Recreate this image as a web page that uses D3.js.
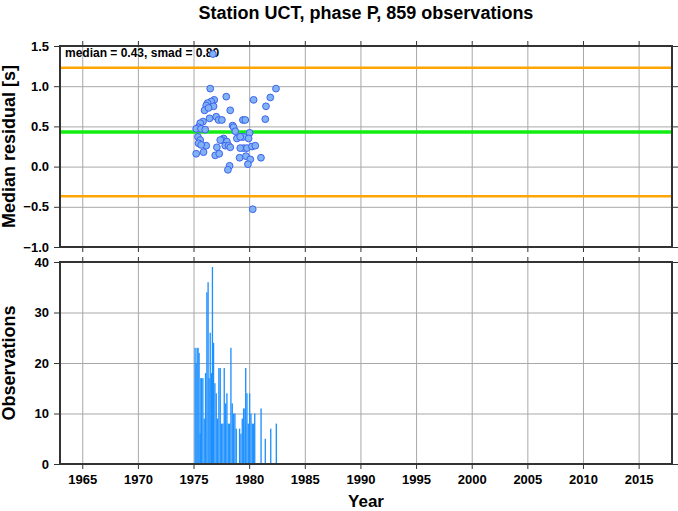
<!DOCTYPE html>
<html><head><meta charset="utf-8">
<script src="https://cdn.jsdelivr.net/npm/d3@7/dist/d3.min.js"></script>
<style>body{margin:0;background:#fff}</style>
</head><body>
<svg id="chart" width="678" height="511"></svg>
<script>
// ---------------- data ----------------
const titleText = "Station UCT, phase P, 859 observations";
const medianValue = 0.43;
const smadValue = 0.80;
const yearTicks = [1965, 1970, 1975, 1980, 1985, 1990, 1995, 2000, 2005, 2010, 2015];
const residualTicks = [-1.0, -0.5, 0.0, 0.5, 1.0, 1.5];
const countTicks = [0, 10, 20, 30, 40];

const pointYears = [1976.74, 1976.50, 1977.94, 1982.41, 1980.40, 1981.90, 1976.86, 1976.59, 1976.26, 1976.14,
  1975.99, 1976.80, 1976.35, 1978.30, 1981.51, 1977.04, 1977.25, 1977.55, 1976.44, 1975.85,
  1975.60, 1975.45, 1975.24, 1975.67, 1976.05, 1979.44, 1979.65, 1981.45, 1978.51, 1978.60,
  1978.75, 1980.04, 1975.40, 1975.60, 1977.70, 1977.55, 1978.00, 1979.35, 1979.50, 1978.90,
  1979.20, 1979.95, 1976.14, 1977.10, 1977.85, 1978.15, 1978.30, 1979.50, 1979.80, 1980.25,
  1980.55, 1975.45, 1975.69, 1975.24, 1975.90, 1976.95, 1977.31, 1977.40, 1979.14, 1979.71,
  1980.10, 1981.06, 1979.89, 1978.24, 1978.09, 1980.32, 1979.20];
const pointResiduals = [1.40, 0.97, 0.87, 0.97, 0.83, 0.86, 0.83, 0.81, 0.79, 0.76,
  0.70, 0.75, 0.73, 0.70, 0.75, 0.62, 0.58, 0.58, 0.60, 0.56,
  0.54, 0.49, 0.47, 0.47, 0.46, 0.58, 0.58, 0.59, 0.51, 0.49,
  0.44, 0.42, 0.37, 0.33, 0.35, 0.33, 0.31, 0.37, 0.37, 0.35,
  0.37, 0.35, 0.26, 0.24, 0.26, 0.26, 0.24, 0.23, 0.23, 0.25,
  0.26, 0.29, 0.27, 0.16, 0.18, 0.14, 0.16, 0.33, 0.11, 0.13,
  0.09, 0.11, 0.03, 0.01, -0.04, -0.53, 0.23];

const barYears = [1975.14, 1975.23, 1975.32, 1975.41, 1975.50, 1975.60, 1975.66, 1975.72, 1975.84, 1975.96,
  1976.08, 1976.20, 1976.31, 1976.40, 1976.50, 1976.62, 1976.70, 1976.80, 1976.92, 1977.04,
  1977.16, 1977.28, 1977.40, 1977.52, 1977.64, 1977.76, 1977.88, 1978.00, 1978.12, 1978.24,
  1978.36, 1978.48, 1978.60, 1978.72, 1978.84, 1979.14, 1979.26, 1979.38, 1979.50, 1979.62,
  1979.69, 1979.80, 1979.92, 1980.04, 1980.16, 1980.28, 1980.40, 1980.50, 1981.07, 1981.45,
  1981.94, 1982.44];
const barCounts = [23, 20, 23, 23, 22, 6, 17, 17, 17, 9,
  18, 34, 36, 17, 26, 18, 39, 24, 16, 14,
  9, 19, 19, 8, 8, 19, 12, 14, 8, 8,
  23, 12, 10, 10, 7, 7, 6, 9, 11, 11,
  19, 14, 8, 14, 10, 8, 8, 10, 11, 5,
  7, 8];

// ---------------- layout ----------------
const W = 678, H = 511;
const left = 60, right = 672;
const top1 = 46, bot1 = 247, top2 = 262, bot2 = 464;
const font = "'Liberation Sans', Arial, Helvetica, sans-serif";
const barWidthYears = 0.12;

const svg = d3.select("#chart");
svg.append("rect").attr("width", W).attr("height", H).attr("fill", "#fff");

const x = d3.scaleLinear().domain([1963, 2018]).range([left, right]);
const yR = d3.scaleLinear().domain([-1.0, 1.5]).range([bot1, top1]);
const yC = d3.scaleLinear().domain([0, 40]).range([bot2, top2]);

function grid(g, yScale, yTicks, y0, y1) {
  g.append("g").attr("transform", `translate(0,${y1})`)
    .call(d3.axisBottom(x).tickValues(yearTicks).tickSize(-(y1 - y0)).tickFormat(""))
    .call(a => { a.select(".domain").remove(); a.selectAll("line").attr("stroke", "#a8a8a8").attr("stroke-width", 1); });
  g.append("g").attr("transform", `translate(${left},0)`)
    .call(d3.axisLeft(yScale).tickValues(yTicks).tickSize(-(right - left)).tickFormat(""))
    .call(a => { a.select(".domain").remove(); a.selectAll("line").attr("stroke", "#a8a8a8").attr("stroke-width", 1); });
}

function frame(g, yScale, yTicks, fmt, y0, y1, showX) {
  const styleAxis = a => {
    a.select(".domain").remove();
    a.selectAll("line").attr("stroke", "#333").attr("stroke-width", 1);
    a.selectAll("text").attr("font-family", font).attr("font-weight", "bold")
      .attr("font-size", 13).attr("fill", "#000");
  };
  g.append("g").attr("transform", `translate(${left},0)`)
    .call(d3.axisLeft(yScale).tickValues(yTicks).tickSize(6).tickPadding(5).tickFormat(fmt)).call(styleAxis);
  g.append("g").attr("transform", `translate(${right},0)`)
    .call(d3.axisRight(yScale).tickValues(yTicks).tickSize(6).tickFormat("")).call(styleAxis);
  g.append("g").attr("transform", `translate(0,${y0})`)
    .call(d3.axisTop(x).tickValues(yearTicks).tickSize(5).tickFormat("")).call(styleAxis);
  g.append("g").attr("transform", `translate(0,${y1})`)
    .call(d3.axisBottom(x).tickValues(yearTicks).tickSize(5).tickPadding(6)
      .tickFormat(showX ? d3.format("d") : "")).call(styleAxis);
  g.append("rect").attr("x", left).attr("y", y0).attr("width", right - left).attr("height", y1 - y0)
    .attr("fill", "none").attr("stroke", "#333").attr("stroke-width", 2);
}

// ---------------- top panel ----------------
const g1 = svg.append("g");
grid(g1, yR, residualTicks, top1, bot1);

const lines = [
  { v: medianValue + smadValue, c: "#ffa500", w: 2.5 },
  { v: medianValue - smadValue, c: "#ffa500", w: 2.5 },
  { v: medianValue, c: "#11ee11", w: 3.5 }
];
g1.selectAll("line.ref").data(lines).join("line").attr("class", "ref")
  .attr("x1", left).attr("x2", right)
  .attr("y1", d => yR(d.v)).attr("y2", d => yR(d.v))
  .attr("stroke", d => d.c).attr("stroke-width", d => d.w);

g1.append("text").attr("x", left + 5).attr("y", top1 + 11)
  .attr("font-family", font).attr("font-weight", "bold").attr("font-size", 12)
  .text(`median = ${medianValue.toFixed(2)}, smad = ${smadValue.toFixed(2)}`);

g1.selectAll("circle").data(pointYears.map((yr, i) => [yr, pointResiduals[i]])).join("circle")
  .attr("cx", d => x(d[0])).attr("cy", d => yR(d[1])).attr("r", 3.4)
  .attr("fill", "#80b2f4").attr("stroke", "#3d63f0").attr("stroke-width", 1);

frame(g1, yR, residualTicks, d3.format(".1f"), top1, bot1, false);

// ---------------- bottom panel ----------------
const g2 = svg.append("g");
grid(g2, yC, countTicks, top2, bot2);

g2.selectAll("rect.bar").data(barYears.map((yr, i) => [yr, barCounts[i]])).join("rect").attr("class", "bar")
  .attr("x", d => x(d[0]) - (x(d[0] + barWidthYears) - x(d[0])) / 2)
  .attr("width", d => x(d[0] + barWidthYears) - x(d[0]))
  .attr("y", d => yC(d[1])).attr("height", d => yC(0) - yC(d[1]))
  .attr("fill", "#1e90ff");

frame(g2, yC, countTicks, d3.format("d"), top2, bot2, true);

// ---------------- titles ----------------
svg.append("text").attr("x", (left + right) / 2).attr("y", 19).attr("text-anchor", "middle")
  .attr("font-family", font).attr("font-weight", "bold").attr("font-size", 18).text(titleText);
svg.append("text").attr("x", (left + right) / 2).attr("y", 507).attr("text-anchor", "middle")
  .attr("font-family", font).attr("font-weight", "bold").attr("font-size", 17).text("Year");
svg.append("text").attr("transform", `translate(15,${(top1 + bot1) / 2}) rotate(-90)`).attr("text-anchor", "middle")
  .attr("font-family", font).attr("font-weight", "bold").attr("font-size", 18).text("Median residual [s]");
svg.append("text").attr("transform", `translate(15,${(top2 + bot2) / 2}) rotate(-90)`).attr("text-anchor", "middle")
  .attr("font-family", font).attr("font-weight", "bold").attr("font-size", 18).text("Observations");
</script>
</body></html>
